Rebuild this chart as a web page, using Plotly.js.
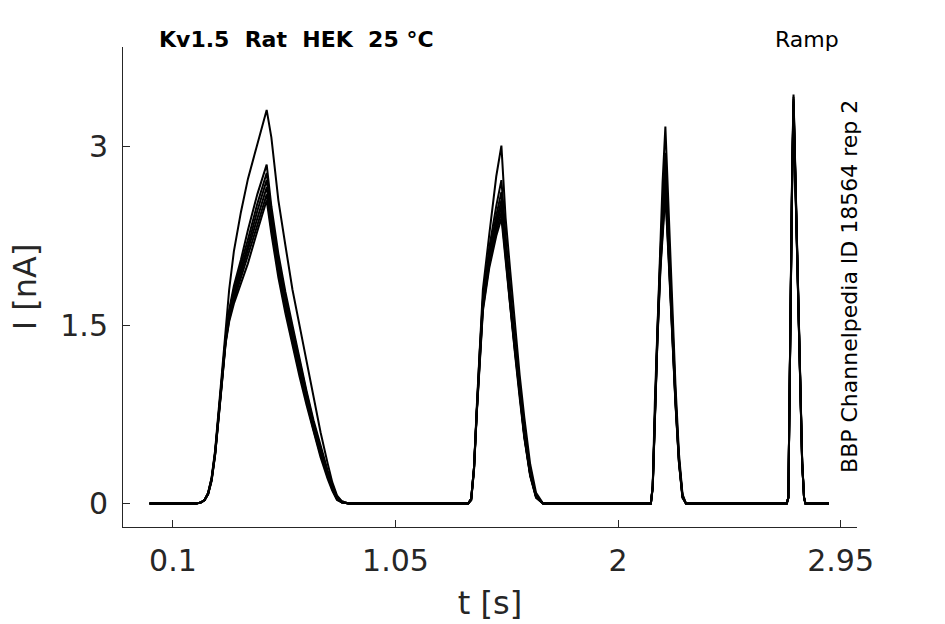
<!DOCTYPE html>
<html>
<head>
<meta charset="utf-8">
<script src="https://cdn.plot.ly/plotly-3.0.1.min.js"></script>
<style>
  html, body { margin: 0; padding: 0; background: #fff; }
  #chart { width: 945px; height: 624px; }
</style>
</head>
<body>
<div id="chart"></div>
<script>
// time points [s]
var timeS = [
  0, 0.2, 0.22, 0.235, 0.25, 0.265, 0.28, 0.295, 0.31, 0.325, 0.34, 0.36, 0.39, 0.42, 0.46, 0.50,
  0.52, 0.55, 0.58, 0.61, 0.64, 0.67, 0.70, 0.73, 0.76, 0.78, 0.80, 0.82, 0.85,
  1.36, 1.373, 1.385, 1.397, 1.409, 1.423, 1.45, 1.48, 1.502, 1.52, 1.54, 1.56, 1.58, 1.60, 1.625, 1.65, 1.68,
  2.14, 2.148, 2.157, 2.168, 2.181, 2.19, 2.202, 2.215, 2.23, 2.245, 2.26, 2.275, 2.29,
  2.72, 2.727, 2.732, 2.737, 2.743, 2.749, 2.755, 2.762, 2.77, 2.778, 2.786, 2.794, 2.80, 2.9
];

// current [nA] for each sweep
var sweep1 = [
  0, 0, 0.01, 0.03, 0.09, 0.22, 0.45, 0.76, 1.12, 1.46, 1.8, 2.12, 2.45, 2.73, 3.02, 3.31,
  3.08, 2.55, 2.17, 1.8, 1.5, 1.2, 0.9, 0.6, 0.34, 0.18, 0.07, 0.02, 0,
  0, 0.04, 0.3, 0.82, 1.3, 1.8, 2.26, 2.75, 3.01, 2.4, 1.95, 1.5, 1.08, 0.72, 0.33, 0.09, 0,
  0, 0.15, 0.85, 1.5, 2.25, 2.7, 3.17, 2.5, 1.7, 1.0, 0.42, 0.08, 0,
  0, 0.05, 1.0, 2.0, 2.78, 3.44, 2.92, 2.32, 1.62, 0.96, 0.36, 0.05, 0, 0
];
var sweep2 = [
  0, 0, 0.01, 0.03, 0.09, 0.21, 0.43, 0.73, 1.08, 1.4, 1.63, 1.83, 2.05, 2.3, 2.6, 2.85,
  2.5, 2.1, 1.78, 1.5, 1.22, 0.95, 0.7, 0.48, 0.28, 0.16, 0.06, 0.02, 0,
  0, 0.04, 0.3, 0.8, 1.26, 1.72, 2.15, 2.5, 2.72, 2.25, 1.78, 1.37, 0.98, 0.62, 0.27, 0.07, 0,
  0, 0.15, 0.83, 1.45, 2.12, 2.5, 2.95, 2.3, 1.6, 0.92, 0.38, 0.07, 0,
  0, 0.05, 0.99, 1.98, 2.76, 3.42, 2.9, 2.3, 1.6, 0.95, 0.35, 0.05, 0, 0
];
var sweep3 = [
  0, 0, 0.01, 0.03, 0.09, 0.21, 0.43, 0.72, 1.07, 1.39, 1.61, 1.8, 2.0, 2.22, 2.52, 2.78,
  2.45, 2.05, 1.74, 1.46, 1.19, 0.93, 0.68, 0.46, 0.26, 0.15, 0.05, 0.01, 0,
  0, 0.04, 0.3, 0.8, 1.25, 1.7, 2.1, 2.42, 2.62, 2.18, 1.74, 1.34, 0.95, 0.6, 0.26, 0.06, 0,
  0, 0.15, 0.82, 1.43, 2.08, 2.43, 2.85, 2.24, 1.56, 0.9, 0.37, 0.06, 0,
  0, 0.05, 0.98, 1.97, 2.74, 3.4, 2.88, 2.29, 1.59, 0.94, 0.35, 0.05, 0, 0
];
var sweep4 = [
  0, 0, 0.01, 0.03, 0.08, 0.2, 0.42, 0.72, 1.06, 1.38, 1.59, 1.77, 1.97, 2.17, 2.46, 2.72,
  2.4, 2.01, 1.7, 1.42, 1.16, 0.9, 0.66, 0.44, 0.25, 0.14, 0.05, 0.01, 0,
  0, 0.04, 0.3, 0.79, 1.24, 1.68, 2.07, 2.37, 2.55, 2.14, 1.71, 1.32, 0.93, 0.58, 0.25, 0.06, 0,
  0, 0.14, 0.81, 1.41, 2.05, 2.38, 2.78, 2.2, 1.53, 0.88, 0.36, 0.06, 0,
  0, 0.05, 0.97, 1.96, 2.72, 3.38, 2.86, 2.27, 1.58, 0.93, 0.34, 0.05, 0, 0
];
var sweep5 = [
  0, 0, 0.01, 0.03, 0.08, 0.2, 0.42, 0.71, 1.05, 1.37, 1.57, 1.74, 1.94, 2.12, 2.4, 2.66,
  2.36, 1.98, 1.67, 1.39, 1.13, 0.88, 0.64, 0.43, 0.24, 0.13, 0.04, 0.01, 0,
  0, 0.03, 0.29, 0.78, 1.23, 1.66, 2.04, 2.33, 2.5, 2.1, 1.68, 1.3, 0.92, 0.57, 0.24, 0.06, 0,
  0, 0.14, 0.8, 1.39, 2.02, 2.33, 2.7, 2.15, 1.5, 0.86, 0.35, 0.06, 0,
  0, 0.05, 0.96, 1.95, 2.7, 3.36, 2.85, 2.26, 1.57, 0.92, 0.34, 0.05, 0, 0
];
var sweep6 = [
  0, 0, 0.01, 0.03, 0.08, 0.2, 0.41, 0.7, 1.04, 1.36, 1.55, 1.71, 1.9, 2.07, 2.34, 2.6,
  2.31, 1.94, 1.64, 1.36, 1.1, 0.86, 0.62, 0.41, 0.23, 0.12, 0.04, 0.01, 0,
  0, 0.03, 0.28, 0.77, 1.22, 1.64, 2.01, 2.29, 2.45, 2.06, 1.66, 1.28, 0.9, 0.56, 0.24, 0.05, 0,
  0, 0.14, 0.79, 1.38, 2.0, 2.3, 2.65, 2.12, 1.48, 0.85, 0.35, 0.05, 0,
  0, 0.05, 0.95, 1.94, 2.69, 3.35, 2.84, 2.25, 1.56, 0.92, 0.33, 0.05, 0, 0
];
var sweep7 = [
  0, 0, 0.01, 0.03, 0.08, 0.19, 0.41, 0.7, 1.03, 1.35, 1.53, 1.68, 1.86, 2.02, 2.29, 2.55,
  2.27, 1.9, 1.6, 1.33, 1.07, 0.83, 0.6, 0.39, 0.21, 0.11, 0.03, 0.01, 0,
  0, 0.03, 0.28, 0.76, 1.2, 1.62, 1.98, 2.25, 2.4, 2.03, 1.63, 1.26, 0.89, 0.55, 0.23, 0.05, 0,
  0, 0.13, 0.78, 1.36, 1.97, 2.26, 2.6, 2.09, 1.46, 0.84, 0.34, 0.05, 0,
  0, 0.05, 0.94, 1.92, 2.67, 3.33, 2.83, 2.24, 1.55, 0.91, 0.33, 0.05, 0, 0
];

var xTicks = [0.1, 1.05, 2, 2.95];
var yTicks = [0, 1.5, 3];

var sweeps = [sweep1, sweep2, sweep3, sweep4, sweep5, sweep6, sweep7];
var data = sweeps.map(function(s){
  return {
    x: timeS,
    y: s,
    mode: 'lines',
    line: { color: '#000000', width: 2 },
    hoverinfo: 'skip'
  };
});

var axisCol = '#262626';
var layout = {
  width: 945,
  height: 624,
  showlegend: false,
  paper_bgcolor: '#ffffff',
  plot_bgcolor: '#ffffff',
  margin: { l: 123, r: 88, t: 47, b: 97 },
  font: { family: 'DejaVu Sans', color: axisCol },
  xaxis: {
    range: [-0.1133, 3.02],
    tickvals: xTicks,
    ticktext: xTicks.map(String),
    ticks: 'inside',
    ticklen: 7,
    tickcolor: axisCol,
    ticklabelstandoff: 7,
    showline: true,
    linecolor: axisCol,
    linewidth: 1,
    showgrid: false,
    zeroline: false,
    tickfont: { size: 30, color: axisCol },
    title: { text: 't [s]', font: { size: 32, color: axisCol }, standoff: 14 }
  },
  yaxis: {
    range: [-0.197, 3.839],
    tickvals: yTicks,
    ticktext: ['0', '1.5', '3'],
    ticks: 'inside',
    ticklen: 7,
    tickcolor: axisCol,
    ticklabelstandoff: 8,
    showline: true,
    linecolor: axisCol,
    linewidth: 1,
    showgrid: false,
    zeroline: false,
    tickfont: { size: 30, color: axisCol },
    title: { text: 'I [nA]', font: { size: 32, color: axisCol }, standoff: 14 }
  },
  annotations: [
    {
      xref: 'paper', yref: 'paper', x: 0.0463, y: 1.0146,
      xanchor: 'left', yanchor: 'middle', showarrow: false,
      text: '<b>Kv1.5\u00a0\u00a0Rat\u00a0\u00a0HEK\u00a0\u00a025 °C</b>',
      font: { size: 22, color: '#000000', family: 'DejaVu Sans' }
    },
    {
      xref: 'paper', yref: 'paper', x: 0.885, y: 1.0146,
      xanchor: 'left', yanchor: 'middle', showarrow: false,
      text: 'Ramp',
      font: { size: 22, color: '#000000', family: 'DejaVu Sans' }
    },
    {
      xref: 'paper', yref: 'paper', x: 0.989, y: 0.502,
      xanchor: 'center', yanchor: 'middle', showarrow: false,
      textangle: -90,
      text: 'BBP Channelpedia ID 18564 rep 2',
      font: { size: 22, color: '#000000', family: 'DejaVu Sans' }
    }
  ]
};

Plotly.newPlot('chart', data, layout, { staticPlot: true, displayModeBar: false });
</script>
</body>
</html>
